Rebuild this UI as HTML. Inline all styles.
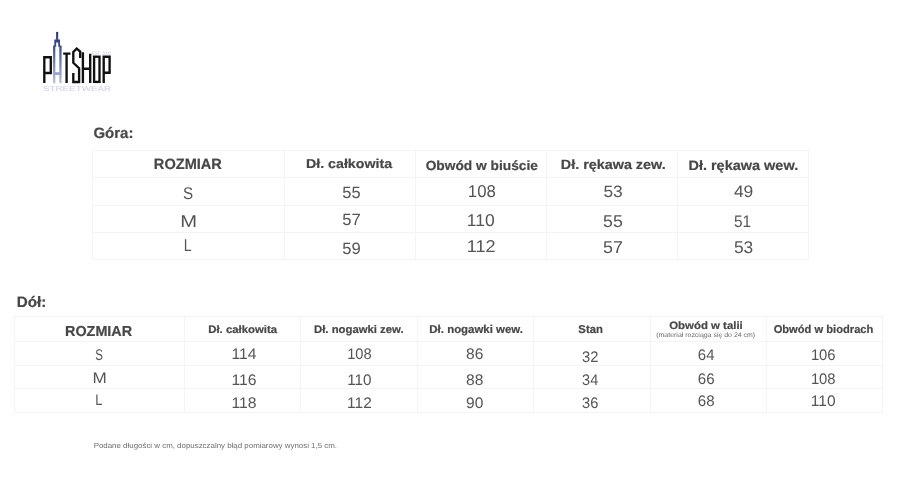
<!DOCTYPE html>
<html><head><meta charset="utf-8"><style>
html,body{margin:0;padding:0;background:#fff;width:900px;height:500px;overflow:hidden}
svg{display:block;will-change:transform}
text{font-family:"Liberation Sans", sans-serif;text-rendering:geometricPrecision}
</style></head><body>
<svg width="900" height="500" viewBox="0 0 900 500">
<rect width="900" height="500" fill="#fff"/>
<rect x="92" y="150" width="717" height="1" fill="#f4f4f4"/><rect x="92" y="177" width="717" height="1" fill="#f4f4f4"/><rect x="92" y="205" width="717" height="1" fill="#f4f4f4"/><rect x="92" y="232" width="717" height="1" fill="#f4f4f4"/><rect x="92" y="259" width="717" height="1" fill="#f4f4f4"/><rect x="92" y="150" width="1" height="110" fill="#f4f4f4"/><rect x="284" y="150" width="1" height="110" fill="#f4f4f4"/><rect x="415" y="150" width="1" height="110" fill="#f4f4f4"/><rect x="546" y="150" width="1" height="110" fill="#f4f4f4"/><rect x="677" y="150" width="1" height="110" fill="#f4f4f4"/><rect x="808" y="150" width="1" height="110" fill="#f4f4f4"/><rect x="14" y="316" width="869" height="1" fill="#f4f4f4"/><rect x="14" y="341" width="869" height="1" fill="#f4f4f4"/><rect x="14" y="365" width="869" height="1" fill="#f4f4f4"/><rect x="14" y="388" width="869" height="1" fill="#f4f4f4"/><rect x="14" y="412" width="869" height="1" fill="#f4f4f4"/><rect x="14" y="316" width="1" height="97" fill="#f4f4f4"/><rect x="184" y="316" width="1" height="97" fill="#f4f4f4"/><rect x="300" y="316" width="1" height="97" fill="#f4f4f4"/><rect x="417" y="316" width="1" height="97" fill="#f4f4f4"/><rect x="533" y="316" width="1" height="97" fill="#f4f4f4"/><rect x="650" y="316" width="1" height="97" fill="#f4f4f4"/><rect x="766" y="316" width="1" height="97" fill="#f4f4f4"/><rect x="882" y="316" width="1" height="97" fill="#f4f4f4"/>
<defs>
<linearGradient id="skg" x1="0" y1="31" x2="0" y2="84" gradientUnits="userSpaceOnUse">
<stop offset="0" stop-color="#27367a"/>
<stop offset="0.3" stop-color="#3c4c90"/>
<stop offset="0.6" stop-color="#7080b8"/>
<stop offset="1" stop-color="#bcc3e2"/>
</linearGradient>
</defs>
<g fill="none" stroke="#111" stroke-width="2.35" stroke-linejoin="miter" stroke-linecap="butt">
<path d="M44.3 83.1 V57.2 H50.8 V73 H44.3"/>
<path d="M63.2 53.6 H70.5 M66.6 53.6 V83.1"/>
<path d="M80.2 58 V51.6 L76.7 48.6 L73.3 51.9 V62.8 L79.1 68.2 V82 H73.3 V73"/>
<path d="M82.9 83 V52.2 M90.2 83 V53.7 M82.9 68.7 H90.2"/>
<rect x="94.1" y="56.7" width="5.4" height="25.2"/>
<path d="M103.7 83 V56.7 H109.6 V72.7 H103.7"/>
</g>
<g fill="url(#skg)">
<rect x="56.1" y="31.9" width="2.1" height="8"/>
<path d="M54.3 39.4 H60 V45.4 H61.6 V83.3 H59.3 V75.0 H55.3 V83.3 H53.1 V45.4 H54.3 Z M55.3 46.8 V72.3 H59.3 V46.8 H58.2 V42.6 H56.2 V46.8 Z" fill-rule="evenodd"/>
</g>
<text x="42.9" y="90.6" font-size="7.0" fill="#c9cfe7" textLength="68.3" lengthAdjust="spacingAndGlyphs" style="font-family:'Liberation Sans',sans-serif">STREETWEAR</text>
<text x="92" y="54.6" font-size="5" font-style="italic" fill="#c4c6d2" textLength="19" lengthAdjust="spacingAndGlyphs" style="font-family:'Liberation Sans',sans-serif">EST. 2002</text>

<text x="93.40" y="137.70" font-size="15.07" font-weight="bold" fill="#474747" stroke="#474747" stroke-width="0.2" textLength="40.06" lengthAdjust="spacingAndGlyphs">Góra:</text>
<text x="16.81" y="306.80" font-size="15.07" font-weight="bold" fill="#474747" stroke="#474747" stroke-width="0.2" textLength="29.60" lengthAdjust="spacingAndGlyphs">Dół:</text>
<text x="153.85" y="168.60" font-size="14.78" font-weight="bold" fill="#474747" stroke="#474747" stroke-width="0.2" textLength="68.06" lengthAdjust="spacingAndGlyphs">ROZMIAR</text>
<text x="305.98" y="167.80" font-size="12.90" font-weight="bold" fill="#474747" stroke="#474747" stroke-width="0.2" textLength="86.12" lengthAdjust="spacingAndGlyphs">Dł. całkowita</text>
<text x="425.70" y="170.00" font-size="13.19" font-weight="bold" fill="#474747" stroke="#474747" stroke-width="0.2" textLength="112.21" lengthAdjust="spacingAndGlyphs">Obwód w biuście</text>
<text x="560.77" y="168.90" font-size="13.48" font-weight="bold" fill="#474747" stroke="#474747" stroke-width="0.2" textLength="104.94" lengthAdjust="spacingAndGlyphs">Dł. rękawa zew.</text>
<text x="688.46" y="170.00" font-size="13.62" font-weight="bold" fill="#474747" stroke="#474747" stroke-width="0.2" textLength="109.72" lengthAdjust="spacingAndGlyphs">Dł. rękawa wew.</text>
<text x="183.07" y="198.75" font-size="16.96" font-weight="normal" fill="#555555" textLength="10.15" lengthAdjust="spacingAndGlyphs">S</text>
<text x="180.39" y="226.75" font-size="16.96" font-weight="normal" fill="#555555" textLength="16.79" lengthAdjust="spacingAndGlyphs">M</text>
<text x="183.67" y="251.00" font-size="16.96" font-weight="normal" fill="#555555" textLength="7.87" lengthAdjust="spacingAndGlyphs">L</text>
<text x="342.34" y="197.50" font-size="16.38" font-weight="normal" fill="#555555" textLength="18.36" lengthAdjust="spacingAndGlyphs">55</text>
<text x="342.33" y="225.00" font-size="16.38" font-weight="normal" fill="#555555" textLength="18.54" lengthAdjust="spacingAndGlyphs">57</text>
<text x="342.34" y="253.75" font-size="16.38" font-weight="normal" fill="#555555" textLength="18.45" lengthAdjust="spacingAndGlyphs">59</text>
<text x="467.84" y="196.80" font-size="17.10" font-weight="normal" fill="#555555" textLength="27.99" lengthAdjust="spacingAndGlyphs">108</text>
<text x="466.89" y="226.00" font-size="17.10" font-weight="normal" fill="#555555" textLength="27.91" lengthAdjust="spacingAndGlyphs">110</text>
<text x="466.84" y="252.00" font-size="17.10" font-weight="normal" fill="#555555" textLength="28.85" lengthAdjust="spacingAndGlyphs">112</text>
<text x="603.40" y="196.80" font-size="16.52" font-weight="normal" fill="#555555" textLength="19.33" lengthAdjust="spacingAndGlyphs">53</text>
<text x="603.04" y="226.75" font-size="16.96" font-weight="normal" fill="#555555" textLength="19.71" lengthAdjust="spacingAndGlyphs">55</text>
<text x="603.03" y="253.00" font-size="16.96" font-weight="normal" fill="#555555" textLength="19.90" lengthAdjust="spacingAndGlyphs">57</text>
<text x="733.90" y="197.00" font-size="16.67" font-weight="normal" fill="#555555" textLength="19.43" lengthAdjust="spacingAndGlyphs">49</text>
<text x="733.98" y="226.75" font-size="16.81" font-weight="normal" fill="#555555" textLength="17.15" lengthAdjust="spacingAndGlyphs">51</text>
<text x="733.90" y="253.00" font-size="16.96" font-weight="normal" fill="#555555" textLength="19.33" lengthAdjust="spacingAndGlyphs">53</text>
<text x="65.07" y="335.80" font-size="14.49" font-weight="bold" fill="#474747" stroke="#474747" stroke-width="0.2" textLength="67.04" lengthAdjust="spacingAndGlyphs">ROZMIAR</text>
<text x="208.26" y="333.00" font-size="10.87" font-weight="bold" fill="#474747" stroke="#474747" stroke-width="0.2" textLength="68.86" lengthAdjust="spacingAndGlyphs">Dł. całkowita</text>
<text x="314.06" y="332.90" font-size="11.01" font-weight="bold" fill="#474747" stroke="#474747" stroke-width="0.2" textLength="89.51" lengthAdjust="spacingAndGlyphs">Dł. nogawki zew.</text>
<text x="429.36" y="332.90" font-size="11.30" font-weight="bold" fill="#474747" stroke="#474747" stroke-width="0.2" textLength="93.60" lengthAdjust="spacingAndGlyphs">Dł. nogawki wew.</text>
<text x="578.36" y="332.90" font-size="11.45" font-weight="bold" fill="#474747" stroke="#474747" stroke-width="0.2" textLength="24.44" lengthAdjust="spacingAndGlyphs">Stan</text>
<text x="669.24" y="328.90" font-size="10.58" font-weight="bold" fill="#474747" stroke="#474747" stroke-width="0.2" textLength="73.55" lengthAdjust="spacingAndGlyphs">Obwód w talii</text>
<text x="656.28" y="337.00" font-size="6.67" font-weight="normal" fill="#666666" textLength="98.85" lengthAdjust="spacingAndGlyphs">(materiał rozciąga się do 24 cm)</text>
<text x="773.65" y="333.10" font-size="11.30" font-weight="bold" fill="#474747" stroke="#474747" stroke-width="0.2" textLength="99.71" lengthAdjust="spacingAndGlyphs">Obwód w biodrach</text>
<text x="95.23" y="359.85" font-size="15.58" font-weight="normal" fill="#555555" textLength="7.71" lengthAdjust="spacingAndGlyphs">S</text>
<text x="92.63" y="382.90" font-size="15.22" font-weight="normal" fill="#555555" textLength="14.30" lengthAdjust="spacingAndGlyphs">M</text>
<text x="95.18" y="405.00" font-size="15.36" font-weight="normal" fill="#555555" textLength="7.12" lengthAdjust="spacingAndGlyphs">L</text>
<text x="231.53" y="358.90" font-size="15.36" font-weight="normal" fill="#555555" textLength="24.93" lengthAdjust="spacingAndGlyphs">114</text>
<text x="231.52" y="385.00" font-size="15.36" font-weight="normal" fill="#555555" textLength="25.10" lengthAdjust="spacingAndGlyphs">116</text>
<text x="231.52" y="407.60" font-size="15.36" font-weight="normal" fill="#555555" textLength="25.10" lengthAdjust="spacingAndGlyphs">118</text>
<text x="347.20" y="358.90" font-size="15.36" font-weight="normal" fill="#555555" textLength="24.44" lengthAdjust="spacingAndGlyphs">108</text>
<text x="347.15" y="385.00" font-size="15.36" font-weight="normal" fill="#555555" textLength="24.37" lengthAdjust="spacingAndGlyphs">110</text>
<text x="347.14" y="407.60" font-size="15.36" font-weight="normal" fill="#555555" textLength="24.62" lengthAdjust="spacingAndGlyphs">112</text>
<text x="466.00" y="358.90" font-size="15.36" font-weight="normal" fill="#555555" textLength="17.36" lengthAdjust="spacingAndGlyphs">86</text>
<text x="466.00" y="385.00" font-size="15.36" font-weight="normal" fill="#555555" textLength="17.36" lengthAdjust="spacingAndGlyphs">88</text>
<text x="466.00" y="407.60" font-size="15.36" font-weight="normal" fill="#555555" textLength="17.28" lengthAdjust="spacingAndGlyphs">90</text>
<text x="582.11" y="361.50" font-size="15.36" font-weight="normal" fill="#555555" textLength="16.47" lengthAdjust="spacingAndGlyphs">32</text>
<text x="582.12" y="385.00" font-size="15.36" font-weight="normal" fill="#555555" textLength="16.15" lengthAdjust="spacingAndGlyphs">34</text>
<text x="582.11" y="408.00" font-size="15.36" font-weight="normal" fill="#555555" textLength="16.31" lengthAdjust="spacingAndGlyphs">36</text>
<text x="697.85" y="359.80" font-size="15.36" font-weight="normal" fill="#555555" textLength="16.63" lengthAdjust="spacingAndGlyphs">64</text>
<text x="697.85" y="383.60" font-size="15.36" font-weight="normal" fill="#555555" textLength="16.79" lengthAdjust="spacingAndGlyphs">66</text>
<text x="697.85" y="406.30" font-size="15.36" font-weight="normal" fill="#555555" textLength="16.79" lengthAdjust="spacingAndGlyphs">68</text>
<text x="810.89" y="359.60" font-size="15.36" font-weight="normal" fill="#555555" textLength="24.76" lengthAdjust="spacingAndGlyphs">106</text>
<text x="810.89" y="383.50" font-size="15.36" font-weight="normal" fill="#555555" textLength="24.76" lengthAdjust="spacingAndGlyphs">108</text>
<text x="810.84" y="406.00" font-size="15.36" font-weight="normal" fill="#555555" textLength="24.69" lengthAdjust="spacingAndGlyphs">110</text>
<text x="93.67" y="447.60" font-size="7.39" font-weight="normal" fill="#6e6e6e" textLength="243.37" lengthAdjust="spacingAndGlyphs">Podane długości w cm, dopuszczalny błąd pomiarowy wynosi 1,5 cm.</text>
</svg>
</body></html>
